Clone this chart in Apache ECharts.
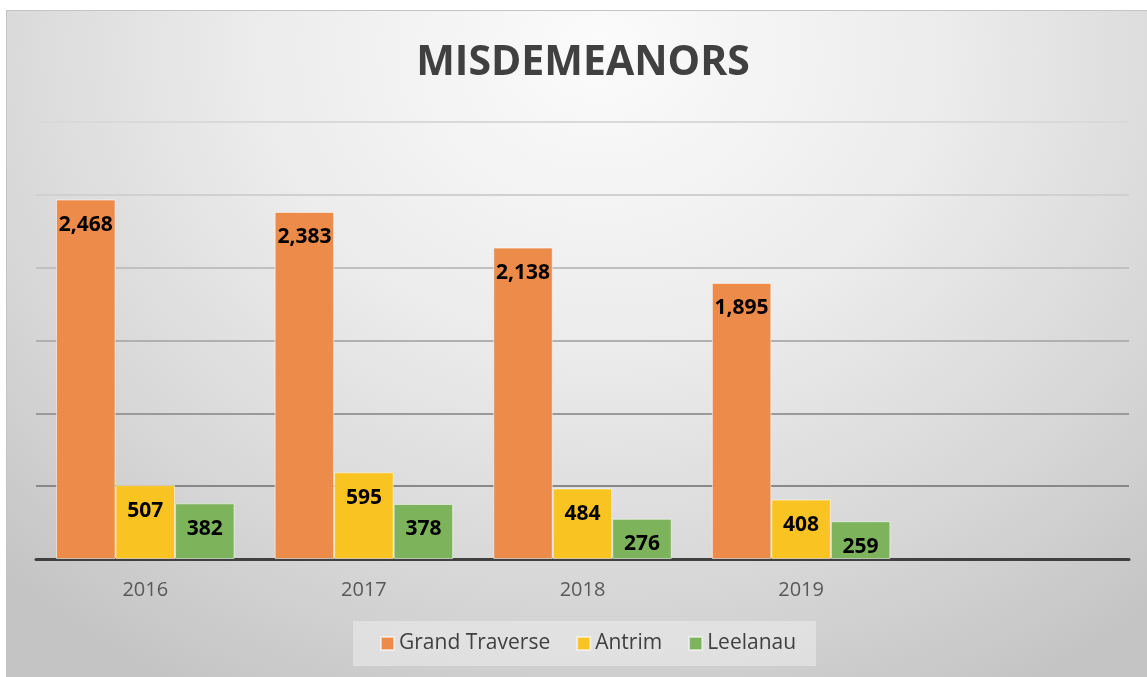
<!DOCTYPE html>
<html>
<head>
<meta charset="utf-8">
<script src="https://cdn.jsdelivr.net/npm/echarts@6/dist/echarts.min.js"></script>
<style>
  html, body { margin: 0; padding: 0; background: #ffffff; }
  #chart {
    position: absolute; left: 6px; top: 10px; width: 1141px; height: 667px;
    box-shadow: inset 1px 1px 0 #c4c4c4;
    background: radial-gradient(ellipse 75% 110% at 52% 6%, #fbfbfb 0%, #ececec 40%, #d6d6d6 75%, #c4c4c4 100%);
  }
</style>
</head>
<body>
<div id="chart"></div>
<script>
var years = ['2016', '2017', '2018', '2019', ''];
var grandTraverse = [2468, 2383, 2138, 1895];
var antrim = [507, 595, 484, 408];
var leelanau = [382, 378, 276, 259];
var seriesNames = ['Grand Traverse', 'Antrim', 'Leelanau'];
var seriesColors = ['#ED8B4A', '#F9C321', '#7DB35B'];

var chart = echarts.init(document.getElementById('chart'));

function barSeries(name, data, color) {
    return {
        name: name,
        type: 'bar',
        data: data,
        barWidth: 59.5,
        barGap: '0%',
        itemStyle: {
            color: color,
            borderColor: 'rgba(255,255,255,0.55)',
            borderWidth: 1
        },
        label: {
            show: true,
            position: 'insideTop',
            distance: 15,
            color: '#000',
            fontFamily: 'Open Sans',
            fontWeight: 'bold',
            fontSize: 21,
            formatter: function (p) { return p.value.toLocaleString('en-US'); }
        }
    };
}

var option = {
    backgroundColor: 'transparent',
    animation: false,
    title: {
        text: 'MISDEMEANORS',
        left: 572,
        textAlign: 'center',
        top: 28,
        textStyle: {
            color: '#404040',
            fontFamily: 'Open Sans',
            fontWeight: 'bold',
            fontSize: 41
        }
    },
    legend: {
        data: seriesNames,
        left: 347,
        top: 611,
        padding: [12, 20, 12, 27],
        backgroundColor: 'rgba(235,235,235,0.6)',
        itemWidth: 13,
        itemHeight: 13,
        itemGap: 26,
        icon: 'rect',
        textStyle: { color: '#404040', fontFamily: 'Open Sans', fontSize: 21 }
    },
    grid: { left: 30, right: 18, top: 112, height: 437 },
    xAxis: {
        type: 'category',
        data: years,
        axisLine: { lineStyle: { color: '#404040', width: 3 } },
        axisTick: { show: false },
        axisLabel: { color: '#595959', fontFamily: 'Open Sans', fontSize: 20, margin: 21 }
    },
    yAxis: {
        type: 'value',
        min: 0,
        max: 3000,
        interval: 500,
        axisLabel: { show: false },
        axisLine: { show: false },
        axisTick: { show: false },
        splitLine: {
            lineStyle: {
                width: 2,
                color: ['#404040', '#888888', '#9a9a9a', '#b0b0b0', '#c0c0c0', '#d0d0d0', '#d9d9d9']
            }
        }
    },
    series: [
        barSeries(seriesNames[0], grandTraverse, seriesColors[0]),
        barSeries(seriesNames[1], antrim, seriesColors[1]),
        barSeries(seriesNames[2], leelanau, seriesColors[2])
    ]
};

chart.setOption(option);
</script>
</body>
</html>
